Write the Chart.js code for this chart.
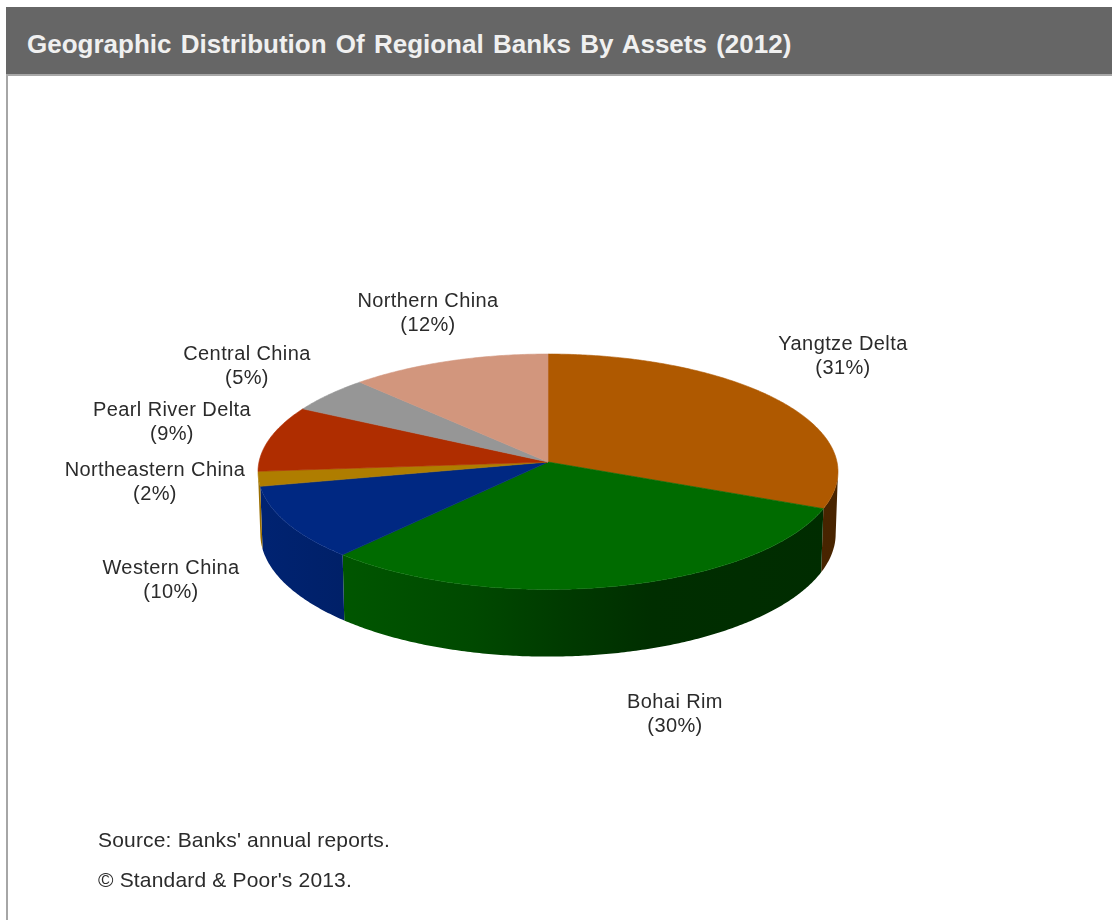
<!DOCTYPE html>
<html>
<head>
  <title>Geographic Distribution Of Regional Banks By Assets (2012)</title>
  <style>
    html, body { margin: 0; padding: 0; background: #fff; }
    body { width: 1112px; height: 920px; position: relative; overflow: hidden; font-family: "Liberation Sans", Arial, sans-serif; }
    #frame { position: absolute; left: 6px; top: 7px; width: 1106px; height: 913px; border-left: 2px solid #a6a6a6; box-sizing: border-box; }
    #header { position: absolute; left: 6px; top: 7px; width: 1106px; height: 69px; background: #666; border-bottom: 2px solid #a8a8a8; box-sizing: border-box; }
    #header span { position: absolute; left: 21px; top: 22px; color: #f0f0f0; font-size: 26px; font-weight: bold; word-spacing: 2px; white-space: nowrap; }
    .note { position: absolute; left: 98px; color: #2b2b2b; font-size: 21px; letter-spacing: 0.18px; white-space: nowrap; }
    canvas { position: absolute; left: 0; top: 0; }
  </style>
</head>
<body>
  <div id="frame"></div>
  <div id="header"><span>Geographic Distribution Of Regional Banks By Assets (2012)</span></div>
  <canvas id="pie" width="1112" height="920"></canvas>
  <div class="note" style="top: 828px">Source: Banks' annual reports.</div>
  <div class="note" style="top: 868px">© Standard &amp; Poor's 2013.</div>

  <script src="https://cdn.jsdelivr.net/npm/chart.js"></script>
  <script>
    const regions = ['Yangtze Delta', 'Bohai Rim', 'Western China', 'Northeastern China', 'Pearl River Delta', 'Central China', 'Northern China'];
    const shares = [31, 30, 10, 2, 9, 5, 12];
    const sliceColors = ['#af5900', '#006b00', '#002882', '#af7d00', '#af2d00', '#969696', '#d2967d'];

    // centre of each two-line label on the page
    const labelCentres = [[843, 356], [675, 714], [171, 580], [155, 482], [172, 422], [247, 366], [428, 313]];

    // tilted disc: how far the rim is pushed towards the viewer
    const tilt = { lean: 0.0828, squash: 0.4045, depth: 61.6, baseShrink: 0.992 };
    // darkening of the side wall from left to right
    const wallShade = [[0, 0.88], [0.145, 0.8], [0.37, 0.68], [0.52, 0.55], [0.68, 0.43], [1, 0.41]];

    function project(arc, angle) {
      const u = Math.cos(angle), v = Math.sin(angle);
      const w = 1 - tilt.lean * v;
      return {
        x: arc.x + arc.outerRadius * u / w,
        y: arc.y + arc.outerRadius * tilt.squash * v / w,
        drop: tilt.depth / w
      };
    }

    function shaded(hex, k) {
      const n = parseInt(hex.slice(1), 16);
      return `rgb(${((n >> 16) & 255) * k},${((n >> 8) & 255) * k},${(n & 255) * k})`;
    }

    function rimAngles(arc) {
      const steps = Math.ceil((arc.endAngle - arc.startAngle) / 0.01);
      const angles = [];
      for (let i = 0; i <= steps; i++) {
        angles.push(arc.startAngle + (arc.endAngle - arc.startAngle) * i / steps);
      }
      return angles;
    }

    function drawWall(ctx, arc, color) {
      // only the part of the rim that faces the viewer
      const pts = rimAngles(arc).filter(a => Math.sin(a) >= tilt.lean).map(a => project(arc, a));
      if (pts.length < 2) return;
      const left = arc.x - arc.outerRadius, width = arc.outerRadius * 2;
      const grad = ctx.createLinearGradient(left, 0, left + width, 0);
      wallShade.forEach(s => grad.addColorStop(s[0], shaded(color, s[1])));
      const baseX = p => arc.x + (p.x - arc.x) * tilt.baseShrink;
      ctx.beginPath();
      pts.forEach((p, i) => i ? ctx.lineTo(p.x, p.y) : ctx.moveTo(p.x, p.y));
      pts.slice().reverse().forEach(p => ctx.lineTo(baseX(p), p.y + p.drop));
      ctx.closePath();
      ctx.fillStyle = grad;
      ctx.fill();
    }

    function drawTop(ctx, arc, color) {
      ctx.beginPath();
      ctx.moveTo(arc.x, arc.y);
      rimAngles(arc).map(a => project(arc, a)).forEach(p => ctx.lineTo(p.x, p.y));
      ctx.closePath();
      ctx.fillStyle = color;
      ctx.strokeStyle = color;
      ctx.lineWidth = 0.6;
      ctx.fill();
      ctx.stroke();
    }

    // replaces the flat arcs with the tilted disc, still using the arc elements' angles
    const tiltedPie = {
      id: 'tiltedPie',
      beforeDatasetsDraw(chart) {
        const ctx = chart.ctx;
        const arcs = chart.getDatasetMeta(0).data;
        ctx.save();
        arcs.forEach((arc, i) => drawWall(ctx, arc, sliceColors[i]));
        arcs.forEach((arc, i) => drawTop(ctx, arc, sliceColors[i]));

        ctx.fillStyle = '#2b2b2b';
        ctx.font = '20px "Liberation Sans", Arial, sans-serif';
        ctx.letterSpacing = '0.4px';
        ctx.textAlign = 'center';
        ctx.textBaseline = 'middle';
        regions.forEach((name, i) => {
          const [x, y] = labelCentres[i];
          ctx.fillText(name, x, y - 12);
          ctx.fillText('(' + shares[i] + '%)', x, y + 12);
        });
        ctx.restore();
        return false;
      }
    };

    new Chart(document.getElementById('pie'), {
      type: 'pie',
      data: {
        labels: regions,
        datasets: [{ data: shares, backgroundColor: sliceColors, borderWidth: 0 }]
      },
      options: {
        responsive: false,
        animation: false,
        layout: { padding: { left: 259, right: 275, top: 173, bottom: 169 } },
        plugins: { legend: { display: false }, tooltip: { enabled: false } }
      },
      plugins: [tiltedPie]
    });
  </script>
</body>
</html>
